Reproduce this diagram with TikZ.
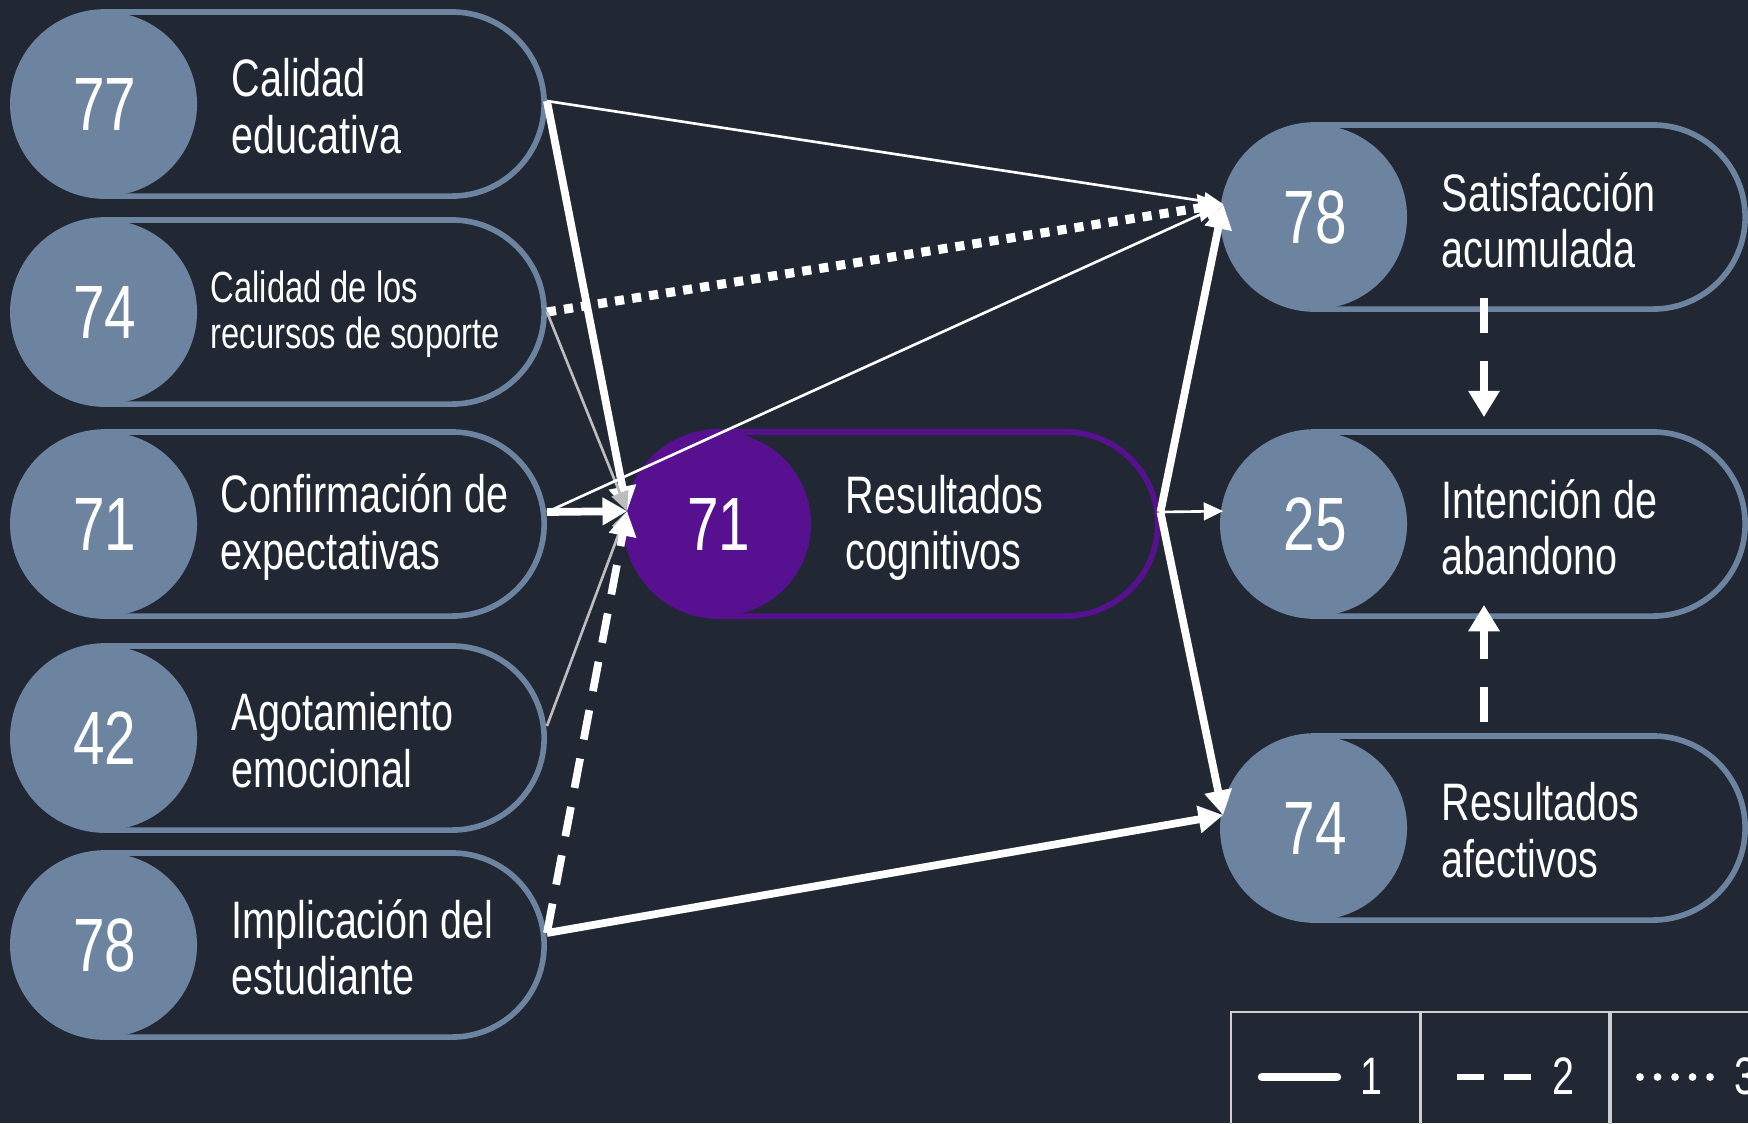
\documentclass[tikz,border=0pt]{standalone}
\usepackage{fontspec}
\setmainfont{Liberation Sans}[FakeStretch=0.75]
\usepackage{tikz}
\usetikzlibrary{arrows.meta,shapes.misc}
\definecolor{bgdark}{HTML}{212833}
\definecolor{slate}{HTML}{6D84A0}
\definecolor{cogpurple}{HTML}{57108F}
\definecolor{linkgray}{HTML}{BDBDBD}
\definecolor{legline}{HTML}{CFCFCF}
\tikzstyle{pill}=[rounded rectangle, draw=slate, line width=1.6pt, minimum width=5.31cm, minimum height=1.84cm, inner sep=0pt]
\tikzstyle{score}=[circle, fill=slate, minimum size=1.84cm, inner sep=0pt, text=white, font=\fontsize{21.5}{24}\selectfont]
\tikzstyle{vartext}=[anchor=west, align=left, inner sep=0pt, text=white, font=\fontsize{15}{16}\selectfont]
\tikzstyle{weak}=[draw=white, line width=0.75pt, -{Triangle[length=5.5pt,width=5pt]}]
\tikzstyle{greylink}=[weak, draw=linkgray]
\tikzstyle{strong}=[draw=white, line width=2.2pt, -{Triangle[length=7pt,width=7.5pt]}]
\tikzstyle{dotlink}=[strong, line width=2.6pt, dash pattern=on 2.6pt off 2.3pt]
\tikzstyle{dashlink}=[strong, dash pattern=on 8.5pt off 5.5pt]
\tikzstyle{legbox}=[draw=legline, line width=0.8pt, minimum width=1.89cm, minimum height=1.23cm]
\tikzstyle{legnum}=[text=white, font=\fontsize{15}{16}\selectfont, inner sep=0pt]

\begin{document}
\begin{tikzpicture}[x=0.01cm, y=-0.01cm]
  \useasboundingbox (0,0) rectangle (1748,1123);
  \clip (0,0) rectangle (1748,1123);
  \fill[bgdark] (0,0) rectangle (1748,1123);

  % antecedentes
  \node[pill] (ce) at (278.5,104) {};
  \node[score] (ce-n) at (105,104) {77};
  \node[vartext] (ce-t) at (231,106) {Calidad\\educativa};

  \node[pill] (crs) at (278.5,312) {};
  \node[score] (crs-n) at (105,312) {74};
  \node[vartext, font=\fontsize{12.4}{13.2}\selectfont] (crs-t) at (210,314) {Calidad de los\\recursos de soporte};

  \node[pill] (conf) at (278.5,524) {};
  \node[score] (conf-n) at (105,524) {71};
  \node[vartext] (conf-t) at (220,527) {Confirmación de\\expectativas};

  \node[pill] (agot) at (278.5,738) {};
  \node[score] (agot-n) at (105,738) {42};
  \node[vartext] (agot-t) at (231,740) {Agotamiento\\emocional};

  \node[pill] (impl) at (278.5,945) {};
  \node[score] (impl-n) at (105,945) {78};
  \node[vartext] (impl-t) at (231,947) {Implicación del\\estudiante};

  % mediador
  \node[pill, draw=cogpurple] (cog) at (892,524) {};
  \node[score, fill=cogpurple] (cog-n) at (719,524) {71};
  \node[vartext] (cog-t) at (845,528) {Resultados\\cognitivos};

  % consecuentes
  \node[pill, minimum width=5.22cm] (sat) at (1484,217) {};
  \node[score] (sat-n) at (1315,217) {78};
  \node[vartext] (sat-t) at (1441,220) {Satisfacción\\acumulada};

  \node[pill, minimum width=5.22cm] (aband) at (1484,524) {};
  \node[score] (aband-n) at (1315,524) {25};
  \node[vartext] (aband-t) at (1441,527) {Intención de\\abandono};

  \node[pill, minimum width=5.22cm] (afec) at (1484,828) {};
  \node[score] (afec-n) at (1315,828) {74};
  \node[vartext] (afec-t) at (1441,830) {Resultados\\afectivos};

  % relaciones
  \draw[weak] ([yshift=0.3mm]ce.east) -- (sat-n.172);
  \draw[strong] ([yshift=0.3mm]ce.east) -- (cog-n.172);
  \draw[dotlink] (crs.east) -- (sat-n.172);
  \draw[greylink] (crs.east) -- (cog-n.172);
  \draw[weak] ([yshift=1.2mm]conf.east) -- (sat-n.172);
  \draw[strong] ([yshift=1.2mm]conf.east) -- (cog-n.172);
  \draw[greylink] ([yshift=1.2mm]agot.east) -- (cog-n.172);
  \draw[dashlink] ([yshift=1.2mm]impl.east) -- (cog-n.172);
  \draw[strong] ([yshift=1.2mm]impl.east) -- (afec-n.172);
  \draw[strong] ([yshift=1.2mm]cog.east) -- (sat-n.172);
  \draw[weak] ([yshift=1.2mm]cog.east) -- (aband-n.172);
  \draw[strong] ([yshift=1.2mm]cog.east) -- (afec-n.172);
  \draw[dashlink, dash pattern=on 10pt off 8pt, -{Triangle[length=7.5pt,width=8.5pt]}] ([yshift=1.4mm]sat.south) -- ([yshift=1.2mm]aband.north);
  \draw[dashlink, dash pattern=on 10pt off 8pt, -{Triangle[length=7.5pt,width=8.5pt]}] ([yshift=1.1mm]afec.north) -- ([yshift=1.4mm]aband.south);

  % leyenda
  \node[legbox] (leg1) at (1325.5,1073.5) {};
  \node[legbox] (leg2) at (1515,1073.5) {};
  \node[legbox] (leg3) at (1705,1073.5) {};
  \draw[white, line width=2.4pt, line cap=round] (1262,1077) -- (1337,1077);
  \node[legnum] (leg1-t) at (1371,1076) {1};
  \draw[white, line width=1.8pt, dash pattern=on 7.7pt off 5.7pt] (1457,1077) -- (1531,1077);
  \node[legnum] (leg2-t) at (1563,1076) {2};
  \draw[white, line width=2.2pt, line cap=round, dash pattern=on 0pt off 0.175cm] (1640,1077) -- (1711,1077);
  \node[legnum] (leg3-t) at (1745,1076) {3};
\end{tikzpicture}
\end{document}
